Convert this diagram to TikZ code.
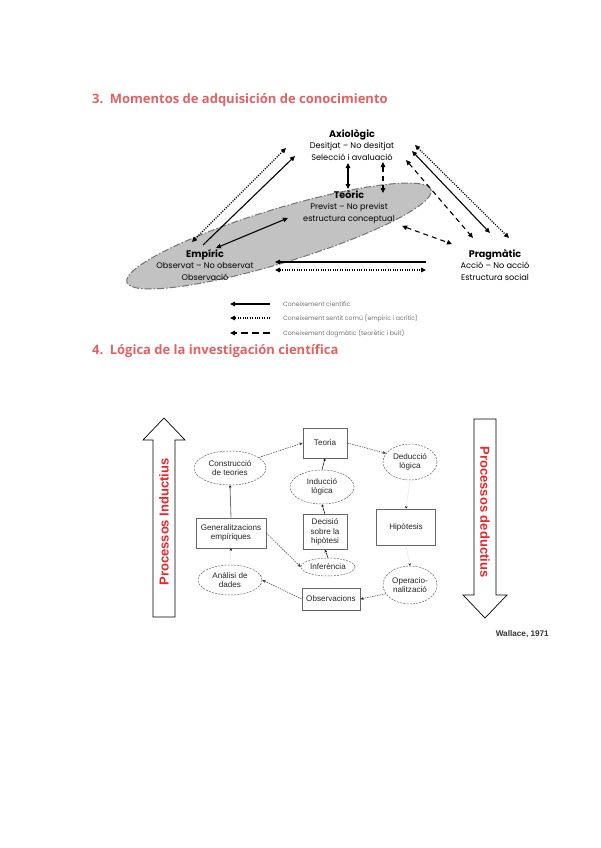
\documentclass[tikz,border=0pt]{standalone}
\usepackage{fontspec}
\setmainfont{Liberation Sans}
\newfontfamily\headfont{Open Sans}
\newfontfamily\gothic{Poppins}
\usetikzlibrary{arrows.meta,shapes.geometric,calc}
\definecolor{headred}{HTML}{E06262}
\definecolor{brightred}{HTML}{E8262A}
\definecolor{ellfill}{HTML}{C2C2C2}
\tikzset{
  heading/.style={anchor=base west, inner sep=0pt, text=headred, font=\headfont\bfseries\fontsize{13}{15}\selectfont},
  moment/.style={align=center, inner sep=0pt, font=\gothic\fontsize{8.2}{11.3}\selectfont},
  sol/.style={line width=1.1pt, black},
  dots/.style={line width=1.2pt, black, dash pattern=on 1.1pt off 1.3pt},
  dsh/.style={line width=1.1pt, black, dash pattern=on 5pt off 4pt},
  tipA/.style={-{Triangle[length=5pt,width=4.5pt]}},
  tipB/.style={{Triangle[length=5pt,width=4.5pt]}-{Triangle[length=5pt,width=4.5pt]}},
  legtxt/.style={anchor=west, inner sep=0pt, text=black!55, font=\gothic\fontsize{6.2}{7}\selectfont},
  box/.style={draw=black!60, line width=0.6pt, fill=white, align=center, inner sep=1pt, text=black!85, font=\fontsize{8.1}{9.4}\selectfont},
  oval/.style={ellipse, draw=black!60, line width=0.5pt, dash pattern=on 2pt off 1.2pt, fill=white, align=center, inner sep=0pt, text=black!85, font=\fontsize{8.1}{9.4}\selectfont},
  thin/.style={line width=0.45pt, black!80, dash pattern=on 1.5pt off 1pt, -{Stealth[length=3.5pt,width=3pt]}},
  tick/.style={line width=0.5pt, black, -{Stealth[length=2.5pt,width=2.5pt]}},
  faint/.style={line width=0.4pt, black!12, -{Stealth[length=2.5pt,width=2.5pt,black]}},
  bigarrow/.style={draw=black, line width=0.7pt, fill=white},
  bigtxt/.style={inner sep=0pt, text=brightred, font=\bfseries\fontsize{13}{13}\selectfont}
}
\begin{document}
\begin{tikzpicture}[x=1pt,y=-1pt]
\useasboundingbox (0,0) rectangle (600,848);
\fill[white] (0,0) rectangle (600,848);

% ---------- heading 3 ----------
\node[heading] (h3) at (92,104) {3.\hspace{0.5em}Momentos de adquisición de conocimiento};

% ---------- diagram 1 ----------
\node[ellipse, rotate=16.9, minimum width=318pt, minimum height=54pt, fill=ellfill,
      draw=black!55, line width=1pt, dash pattern=on 7pt off 2pt on 1.5pt off 2pt] (ell) at (279,236) {};

\node[moment] (axio) at (352,145) {{\bfseries\fontsize{9.6}{11.3}\selectfont Axiològic}\\Desitjat – No desitjat\\Selecció i avaluació};
\node[moment] (teoric) at (349,207) {{\bfseries\fontsize{9.6}{11.3}\selectfont Teòric}\\Previst – No previst\\estructura conceptual};
\node[moment] (empiric) at (205,265) {{\bfseries\fontsize{9.6}{11.3}\selectfont Empíric}\\Observat – No observat\\Observació};
\node[moment] (pragm) at (495,265) {{\bfseries\fontsize{9.6}{11.3}\selectfont Pragmàtic}\\Acció – No acció\\Estructura social};

% connector end points
\coordinate (c1a) at (203,245); \coordinate (c1b) at (295,156);
\coordinate (c2a) at (192,242); \coordinate (c2b) at (286,148);
\coordinate (c3a) at (216,248); \coordinate (c3b) at (288,218);
\coordinate (c4a) at (348,163); \coordinate (c4b) at (348,189);
\coordinate (c5a) at (383,162); \coordinate (c5b) at (383,193);
\coordinate (c6a) at (412,151); \coordinate (c6b) at (490,233);
\coordinate (c7a) at (415,145); \coordinate (c7b) at (509,238);
\coordinate (c8a) at (406,160); \coordinate (c8b) at (473,238);
\coordinate (c9a) at (402,226); \coordinate (c9b) at (452,244);
\coordinate (c10a) at (426,262); \coordinate (c10b) at (275,262);
\coordinate (c11a) at (275,270); \coordinate (c11b) at (426,270);

\draw[sol,tipA] (c1a) -- (c1b);
\draw[dots,tipB] (c2a) -- (c2b);
\draw[sol,tipB] (c3a) -- (c3b);
\draw[sol,tipB] (c4a) -- (c4b);
\draw[dsh,tipB] (c5a) -- (c5b);
\draw[sol,tipB] (c6a) -- (c6b);
\draw[dots,tipB] (c7a) -- (c7b);
\draw[dsh,tipB] (c8a) -- (c8b);
\draw[dsh,tipB] (c9a) -- (c9b);
\draw[sol,tipA] (c10a) -- (c10b);
\draw[dots,tipB] (c11a) -- (c11b);

% legend
\coordinate (l1a) at (270,304); \coordinate (l1b) at (230,304);
\coordinate (l2a) at (270,318); \coordinate (l2b) at (230,318);
\coordinate (l3a) at (270,333); \coordinate (l3b) at (230,333);
\draw[sol,tipA] (l1a) -- (l1b);
\draw[dots,tipA] (l2a) -- (l2b);
\draw[dsh,tipA,dash pattern=on 7pt off 4pt] (l3a) -- (l3b);
\node[legtxt] (lt1) at (283,304) {Coneixement científic};
\node[legtxt] (lt2) at (283,318) {Coneixement sentit comú (empíric i acrític)};
\node[legtxt] (lt3) at (283,333) {Coneixement dogmàtic (teorètic i buit)};

% ---------- heading 4 ----------
\node[heading] (h4) at (92,354) {4.\hspace{0.5em}Lógica de la investigación científica};

% ---------- diagram 2 ----------
% big arrows
\draw[bigarrow] (153,617) -- (153,440) -- (143,440) -- (164,418) -- (185,440) -- (175,440) -- (175,617) -- cycle;
\draw[bigarrow] (474,419) -- (474,595) -- (463,595) -- (485,618) -- (507,595) -- (496,595) -- (496,419) -- cycle;
\node[bigtxt, rotate=90] (pind) at (164,522) {Processos Inductius};
\node[bigtxt, rotate=-90] (pded) at (485,512) {Processos deductius};

% nodes
\node[box, minimum width=44pt, minimum height=30pt] (teoria) at (325,443) {Teoria};
\node[oval, minimum width=72pt, minimum height=34pt] (constr) at (230,468) {Construcció\\de teories};
\node[oval, minimum width=54pt, minimum height=36pt] (deduc) at (410,462) {Deducció\\lògica};
\node[oval, minimum width=64pt, minimum height=34pt] (induc) at (322,487) {Inducció\\lògica};
\node[box, minimum width=70pt, minimum height=30pt] (gener) at (231,533) {Generalitzacions\\empíriques};
\node[box, minimum width=44pt, minimum height=35pt] (decis) at (325,532) {Decisió\\sobre la\\hipòtesi};
\node[box, minimum width=59pt, minimum height=36pt] (hipot) at (406,527) {Hipòtesis};
\node[oval, minimum width=54pt, minimum height=18pt] (infer) at (328,567) {Inferència};
\node[oval, minimum width=64pt, minimum height=30pt] (anali) at (230,580) {Anàlisi de\\dades};
\node[oval, minimum width=54pt, minimum height=38pt] (operac) at (410,585) {Operacio-\\nalització};
\node[box, minimum width=58pt, minimum height=22pt] (obser) at (331,599) {Observacions};

% connectors
\draw[thin] (constr.20) -- (teoria.west);
\draw[thin] (teoria.east) -- (deduc.160);
\draw[faint] (deduc.south) -- (hipot.north);
\draw[faint] (hipot.south) -- (operac.north);
\draw[thin] (operac.200) -- (obser.east);
\draw[thin] (obser.west) -- (anali.east);
\draw[faint] (anali.north) -- (gener.south);
\draw[line width=0.8pt, black!55, -{Stealth[length=2.5pt,width=2.5pt,black]}] (gener.north) -- (constr.south);
\draw[thin] (gener.east) -- (infer.west);
\draw[tick] (infer.north) -- (decis.south);
\draw[tick] (decis.north) -- (induc.south);
\draw[tick] (induc.north) -- (teoria.south);

\node[inner sep=0pt, anchor=base east, text=black!80, font=\bfseries\fontsize{8.2}{9}\selectfont] (wall) at (549,636) {Wallace, 1971};
\end{tikzpicture}
\end{document}
